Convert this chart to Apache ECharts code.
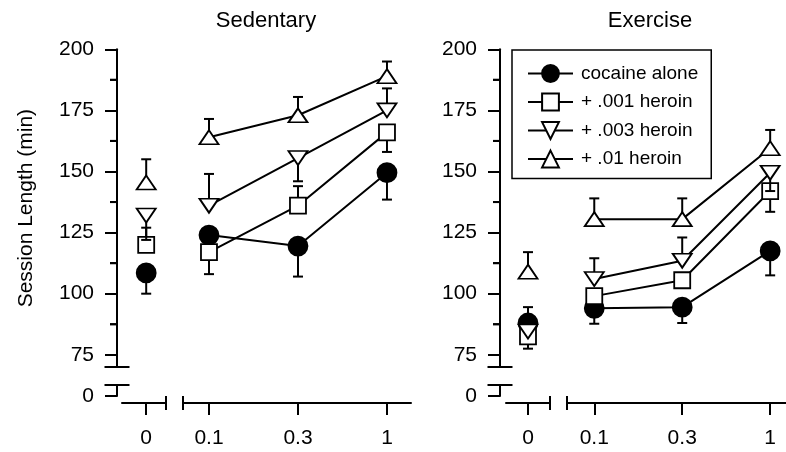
<!DOCTYPE html>
<html>
<head>
<meta charset="utf-8">
<script src="https://cdn.jsdelivr.net/npm/echarts@6/dist/echarts.min.js"></script>
<style>
  html, body { margin: 0; padding: 0; background: #fff; }
  #chart { width: 786px; height: 452px; }
</style>
</head>
<body>
<div id="chart"></div>
<script>
// cocaine dose; 0 sits on its own piece of the broken x axis
const zeroDose = ['0'];
const doseLabels = ['0.1', '0.3', '1'];
const groupNames = ['cocaine alone', '+ .001 heroin', '+ .003 heroin', '+ .01 heroin'];

// session length (min) at doses 0, 0.1, 0.3, 1 -- sedentary
const sedCocaine = [108.5, 124, 119.5, 149.5];
const sedH001 = [120, 117, 136, 166];
const sedH003 = [132, 136, 155.5, 175];
const sedH01 = [145.5, 164, 173, 189];
// where the one-sided error bar ends (null = not visible)
const sedCocaineErr = [100, null, 107, 138.5];
const sedH001Err = [127, 108, 144, 158];
const sedH003Err = [122, 149, 146, 184];
const sedH01Err = [155, 171.5, 180.5, 195];

// exercise
const exCocaine = [88, 94, 94.5, 117.5];
const exH001 = [82.5, 99, 105.5, 142];
const exH003 = [84.5, 106, 113.5, 149.5];
const exH01 = [109, 130.5, 130.5, 159.5];
const exCocaineErr = [94.5, 87.7, 88, 107.5];
const exH001Err = [77.5, null, null, 133.5];
const exH003Err = [null, 114.5, 123, 142];
const exH01Err = [117, 139, 139, 167];

const yTicks = [75, 100, 125, 150, 175, 200];
const yMinorTicks = [87.5, 112.5, 137.5, 162.5, 187.5];

const FONT = 'Liberation Sans, Arial, sans-serif';
const W = 786, H = 452;
const plotTop = 49.3, plotBottom = 367, xLineY = 403;

const symbols = ['circle', 'rect', 'path://M0,0L20,0L10,14Z', 'triangle'];
const symbolSizes = [19, 16, [19, 14], [19, 14]];
const fills = ['#000', '#fff', '#fff', '#fff'];

const panels = [
  {title: 'Sedentary', titleX: 266, axisX: 117, zeroSeg: [122, 166], zeroMin: -1.1, zeroMax: 0.9,
   doseSeg: [183, 411], doseMin: -0.292, doseMax: 2.27,
   means: [sedCocaine, sedH001, sedH003, sedH01], errs: [sedCocaineErr, sedH001Err, sedH003Err, sedH01Err]},
  {title: 'Exercise', titleX: 650, axisX: 500, zeroSeg: [506, 550], zeroMin: -1.0, zeroMax: 1.0,
   doseSeg: [567, 786], doseMin: -0.31, doseMax: 2.18,
   means: [exCocaine, exH001, exH003, exH01], errs: [exCocaineErr, exH001Err, exH003Err, exH01Err]}
];

const black = {color: '#000', width: 2};
const labelStyle = {color: '#000', fontSize: 21, fontFamily: FONT};

function errorBars(xi, yi, pts, z) {
  return {
    type: 'custom', xAxisIndex: xi, yAxisIndex: yi, z: z, silent: true, clip: false,
    data: pts,
    renderItem: function (params, api) {
      const p0 = api.coord([api.value(0), api.value(1)]);
      const p1 = api.coord([api.value(0), api.value(2)]);
      return {
        type: 'group',
        children: [
          {type: 'line', shape: {x1: p0[0], y1: p0[1], x2: p1[0], y2: p1[1]}, style: {stroke: '#000', lineWidth: 2}},
          {type: 'line', shape: {x1: p1[0] - 5, y1: p1[1], x2: p1[0] + 5, y2: p1[1]}, style: {stroke: '#000', lineWidth: 2}}
        ]
      };
    }
  };
}

// short minor ticks left of the y axis line; the axis line sits `shift` px left of the grid edge
function minorTicks(xi, yi, xMin, shift) {
  return {
    type: 'custom', xAxisIndex: xi, yAxisIndex: yi, z: 20, silent: true, clip: false,
    data: yMinorTicks.map(function (v) { return [xMin, v]; }),
    renderItem: function (params, api) {
      const p = api.coord([api.value(0), api.value(1)]);
      const ax = p[0] - shift;
      return {type: 'line', shape: {x1: ax - 7, y1: p[1], x2: ax, y2: p[1]}, style: {stroke: '#000', lineWidth: 2}};
    }
  };
}

const grid = [], xAxis = [], yAxis = [], series = [], graphic = [];

panels.forEach(function (p, k) {
  const g0 = grid.length;
  // dose 0 column, carries the upper piece of the y axis
  grid.push({left: p.zeroSeg[0], right: W - p.zeroSeg[1], top: plotTop, bottom: H - plotBottom});
  // doses 0.1 - 1
  grid.push({left: p.doseSeg[0], right: W - p.doseSeg[1], top: plotTop, bottom: H - plotBottom});
  // lower piece of the y axis with the 0 tick
  grid.push({left: p.axisX, width: 10, top: 385, bottom: H - 396});

  const x0 = xAxis.length;
  p.xAxisIndex = x0;
  xAxis.push({
    gridIndex: g0, type: 'value', min: p.zeroMin, max: p.zeroMax, offset: xLineY - plotBottom,
    axisLine: {onZero: false, lineStyle: black, symbol: ['none', 'rect'], symbolSize: [14, 2]},
    axisTick: {length: 12, lineStyle: black, customValues: [0]},
    axisLabel: Object.assign({customValues: [0], margin: 25, formatter: function () { return zeroDose[0]; }}, labelStyle),
    splitLine: {show: false}
  });
  xAxis.push({
    gridIndex: g0 + 1, type: 'value', min: p.doseMin, max: p.doseMax, offset: xLineY - plotBottom,
    axisLine: {onZero: false, lineStyle: black, symbol: ['rect', 'none'], symbolSize: [14, 2]},
    axisTick: {length: 12, lineStyle: black, customValues: [0, 1, 2]},
    axisLabel: Object.assign({customValues: [0, 1, 2], margin: 25, formatter: function (v) { return doseLabels[Math.round(v)]; }}, labelStyle),
    splitLine: {show: false}
  });
  xAxis.push({gridIndex: g0 + 2, type: 'value', min: 0, max: 1, show: false});

  const y0 = yAxis.length;
  p.yAxisIndex = y0;
  yAxis.push({
    gridIndex: g0, type: 'value', position: 'left', min: 70, max: 200, offset: p.zeroSeg[0] - p.axisX,
    axisLine: {show: true, onZero: false, lineStyle: black, symbol: ['rect', 'none'], symbolSize: [25, 2]},
    axisTick: {length: 12, lineStyle: black, customValues: yTicks},
    axisLabel: Object.assign({customValues: yTicks, margin: 23}, labelStyle),
    splitLine: {show: false},
    name: k === 0 ? 'Session Length (min)' : '',
    nameLocation: 'middle', nameGap: 80,
    nameTextStyle: {color: '#000', fontSize: 21, fontFamily: FONT}
  });
  yAxis.push({gridIndex: g0 + 1, type: 'value', min: 70, max: 200, show: false});
  yAxis.push({
    gridIndex: g0 + 2, type: 'value', position: 'left', min: 0, max: 4.5,
    axisLine: {show: true, onZero: false, lineStyle: black, symbol: ['none', 'rect'], symbolSize: [25, 2]},
    axisTick: {length: 12, lineStyle: black, customValues: [0]},
    axisLabel: Object.assign({customValues: [0], margin: 23}, labelStyle),
    splitLine: {show: false}
  });

  series.push(minorTicks(x0, y0, p.zeroMin, p.zeroSeg[0] - p.axisX));

  p.means.forEach(function (m, i) {
    const e = p.errs[i];
    const marker = {
      symbol: symbols[i], symbolSize: symbolSizes[i],
      itemStyle: {color: fills[i], borderColor: '#000', borderWidth: 1.8, opacity: 1}
    };
    const zeroPts = e[0] == null ? [] : [[0, m[0], e[0]]];
    const dosePts = [];
    for (let j = 1; j < m.length; j++) {
      if (e[j] != null) dosePts.push([j - 1, m[j], e[j]]);
    }
    series.push(errorBars(x0, y0, zeroPts, 2 + 2 * i));
    series.push(errorBars(x0 + 1, y0 + 1, dosePts, 2 + 2 * i));
    series.push(Object.assign({
      type: 'line', name: groupNames[i], xAxisIndex: x0 + 1, yAxisIndex: y0 + 1, z: 3 + 2 * i,
      data: m.slice(1).map(function (v, j) { return [j, v]; }),
      lineStyle: {color: '#000', width: 2}, emphasis: {disabled: true}, silent: true
    }, marker));
    series.push(Object.assign({
      type: 'scatter', name: groupNames[i], xAxisIndex: x0, yAxisIndex: y0, z: 3 + 2 * i,
      data: [[0, m[0]]], emphasis: {disabled: true}, silent: true
    }, marker));
  });

  graphic.push({
    type: 'text', x: p.titleX, y: 21,
    style: {text: p.title, align: 'center', verticalAlign: 'middle', fontSize: 22, fontFamily: FONT, fill: '#000'}
  });
});

// keep the line series first so the legend takes its icon from them
series.sort(function (a, b) { return (a.type === 'line' ? 0 : 1) - (b.type === 'line' ? 0 : 1); });

const chart = echarts.init(document.getElementById('chart'));
chart.setOption({
  animation: false,
  backgroundColor: '#fff',
  grid: grid,
  xAxis: xAxis,
  yAxis: yAxis,
  graphic: graphic,
  legend: {
    data: groupNames, orient: 'vertical', left: 512, top: 50,
    itemWidth: 45, itemHeight: 21, itemGap: 9.5,
    borderColor: '#000', borderWidth: 1.5, padding: [14, 13, 10, 15],
    selectedMode: false,
    textStyle: {color: '#000', fontSize: 19, fontFamily: FONT, padding: [0, 0, 0, 3]}
  },
  series: series
});

// same minor ticks again as graphic lines, placed through the grid's own scale
const minorMarks = [];
panels.forEach(function (p) {
  yMinorTicks.forEach(function (v) {
    const pt = chart.convertToPixel({xAxisIndex: p.xAxisIndex, yAxisIndex: p.yAxisIndex}, [p.zeroMin, v]);
    const y = Array.isArray(pt) ? pt[1] : pt;
    if (typeof y === 'number' && isFinite(y)) {
      minorMarks.push({
        type: 'line', z: 100, silent: true,
        shape: {x1: p.axisX - 7, y1: y, x2: p.axisX, y2: y},
        style: {stroke: '#000', lineWidth: 2}
      });
    }
  });
});
chart.setOption({graphic: {elements: graphic.concat(minorMarks)}});
</script>
</body>
</html>
